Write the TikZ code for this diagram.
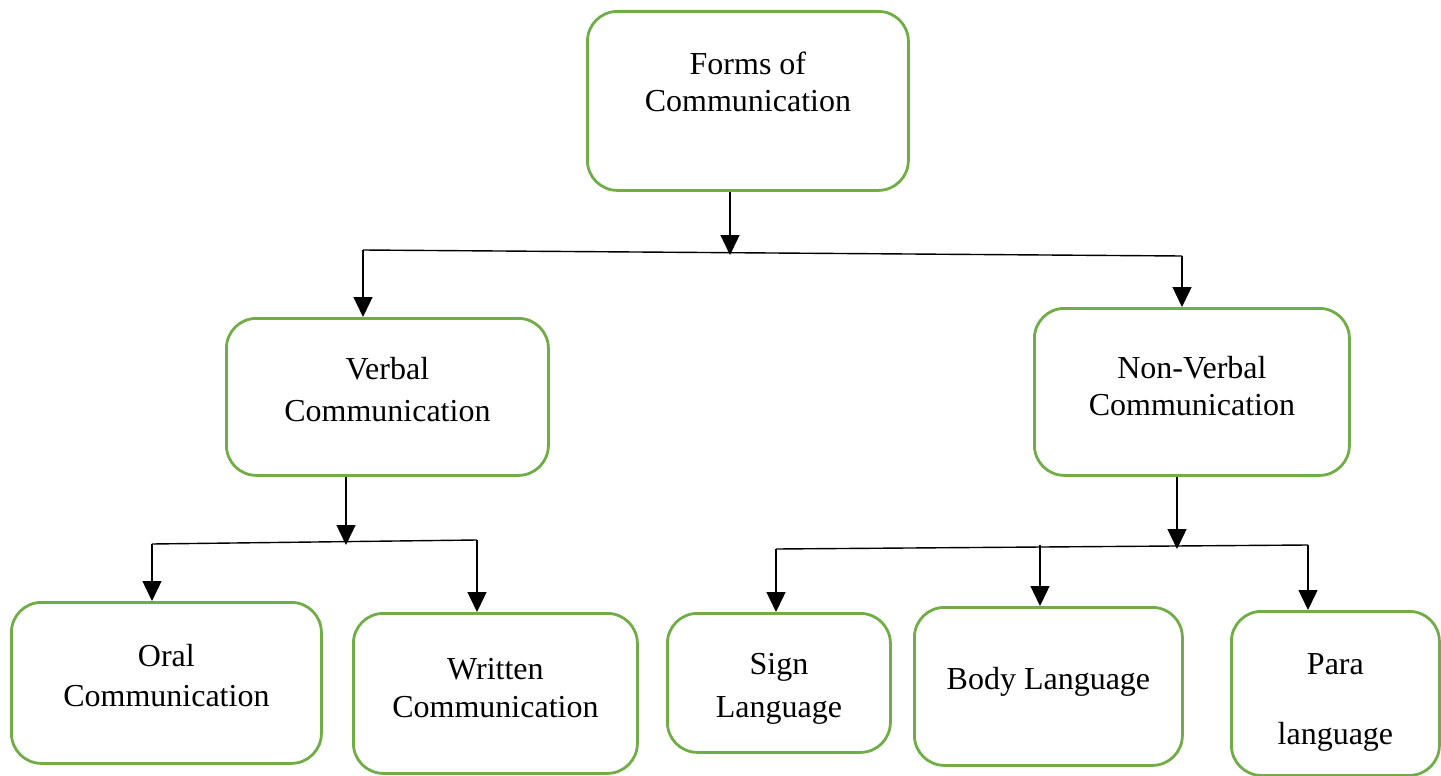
\documentclass[tikz,border=0pt]{standalone}
\usepackage{fontspec}
\setmainfont{Liberation Serif}
\usepackage{tikz}
\usetikzlibrary{arrows.meta}
\usetikzlibrary{positioning}
\definecolor{boxgreen}{RGB}{112,173,71}
\tikzset{
    comm/.style={
           rectangle, rounded corners=30pt,
           draw=boxgreen, line width=2.8pt,
           inner sep=0pt, anchor=north west, align=center,
           font=\fontsize{32}{40}\selectfont,
           },
    link/.style={line width=1.4pt},
    arr/.style={link, -{Triangle[length=20pt,width=19pt]}},
}

\begin{document}
\begin{tikzpicture}[x=1pt,y=-1pt]
\useasboundingbox (0,0) rectangle (1441,776);
\node[comm, minimum width=321pt, text height=100pt, text depth=79pt] (forms) at (586,10) {Forms of\\[-3pt]Communication};
\node[comm, minimum width=322pt, text height=103pt, text depth=54pt] (verbal) at (225,317) {Verbal\\[2pt]Communication};
\node[comm, minimum width=315pt, text height=107pt, text depth=60pt] (nonverbal) at (1033,307) {Non-Verbal\\[-3pt]Communication};
\node[comm, minimum width=310pt, text height=104pt, text depth=57pt] (oral) at (10,601) {Oral\\Communication};
\node[comm, minimum width=284pt, text height=104pt, text depth=56pt] (written) at (352,612) {Written\\[-2pt]Communication};
\node[comm, minimum width=223pt, text height=104pt, text depth=35pt] (sign) at (666,612) {Sign\\[3pt]Language};
\node[comm, minimum width=268pt, text height=82pt, text depth=76pt] (body) at (913,606) {Body Language};
\node[comm, minimum width=208pt, text height=133pt, text depth=31pt] (para) at (1230,610) {Para\\[30pt]language};
\coordinate (fj) at (730,255);
\coordinate (vl) at (363,250);
\coordinate (vr) at (1182,256);
\draw[arr] (forms.south -| fj) -- (fj);
\draw[link] (vl) -- (vr);
\draw[arr] (vl) -- (verbal.north -| vl);
\draw[arr] (vr) -- (nonverbal.north -| vr);
\coordinate (vj) at (346,545);
\coordinate (ol) at (152,544);
\coordinate (wr) at (477,540);
\draw[arr] (verbal.south -| vj) -- (vj);
\draw[link] (ol) -- (wr);
\draw[arr] (ol) -- (oral.north -| ol);
\draw[arr] (wr) -- (written.north -| wr);
\coordinate (nj) at (1177,549);
\coordinate (sl) at (776,549);
\coordinate (bm) at (1040,545);
\coordinate (pr) at (1308,545);
\draw[arr] (nonverbal.south -| nj) -- (nj);
\draw[link] (sl) -- (pr);
\draw[arr] (sl) -- (sign.north -| sl);
\draw[arr] (bm) -- (body.north -| bm);
\draw[arr] (pr) -- (para.north -| pr);
\end{tikzpicture}
\end{document}
